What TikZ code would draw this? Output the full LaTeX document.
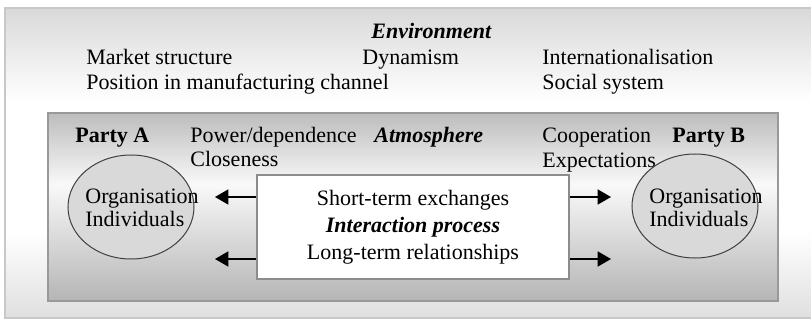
\documentclass[tikz,border=0pt]{standalone}
\usepackage{fontspec}
\setmainfont{Liberation Serif}
\usepackage{xcolor}
\usepackage{tikz}
\usetikzlibrary{shapes.geometric}
\usetikzlibrary{arrows}

\pgfdeclareverticalshading{envfade}{100bp}{color(0bp)=(gray!25); color(25bp)=(gray!25); color(39bp)=(white); color(60bp)=(white); color(75bp)=(gray!30); color(100bp)=(gray!30)}
\pgfdeclareverticalshading{atmofade}{100bp}{color(0bp)=(gray!58); color(25bp)=(gray!58); color(56bp)=(gray!5); color(75bp)=(gray!52); color(100bp)=(gray!52)}

\tikzset{
    txt/.style = {anchor = base west, inner sep = 0pt},
    flow/.style = {-triangle 60, line width = 0.8pt},
    party/.style = {ellipse, draw = black!75, fill = gray!30, line width = 0.5pt,
        minimum width = 63pt, minimum height = 52pt, inner sep = 0pt}
}

\begin{document}
\fontsize{11}{13}\selectfont
\begin{tikzpicture}[x = 0.5pt, y = -0.5pt]
    \useasboundingbox (0, 0) rectangle (811, 321);

    \shade [shading = envfade] (5, 8) rectangle (814, 318);
    \draw [gray!43, line width = 1pt] (5, 8) rectangle (814, 318);
    \shade [shading = atmofade] (48, 113) rectangle (778, 301);
    \draw [gray!80, line width = 1pt] (48, 113) rectangle (778, 301);

    \node [txt, font = \bfseries\itshape] (environment) at (371, 39) {Environment};
    \node [txt] (market) at (86, 64) {Market structure};
    \node [txt] (dynamism) at (362, 64) {Dynamism};
    \node [txt] (intl) at (542, 64) {Internationalisation};
    \node [txt] (position) at (86, 90) {Position in manufacturing channel};
    \node [txt] (social) at (542, 90) {Social system};

    \node [txt, font = \bfseries] (partyA) at (75, 142) {Party A};
    \node [txt] (power) at (190, 142) {Power/dependence};
    \node [txt, font = \bfseries\itshape] (atmosphere) at (374, 142) {Atmosphere};
    \node [txt] (cooperation) at (542, 142) {Cooperation};
    \node [txt, font = \bfseries] (partyB) at (672, 142) {Party B};
    \node [txt] (closeness) at (190, 167) {Closeness};
    \node [txt] (expectations) at (542, 168) {Expectations};

    \node [party] (orgA) at (131, 207) {};
    \node [party] (orgB) at (695, 206) {};
    \node [txt] (orgAname) at (85, 204) {Organisation};
    \node [txt] (orgAstaff) at (85, 227) {Individuals};
    \node [txt] (orgBname) at (649, 204) {Organisation};
    \node [txt] (orgBstaff) at (649, 227) {Individuals};

    \node [draw = gray!90, fill = white, line width = 0.7pt, minimum width = 156pt, minimum height = 52pt,
        inner sep = 0pt, align = center, font = \fontsize{11}{13.5}\selectfont] (process) at (413, 227)
        {Short-term exchanges\\\textbf{\textit{Interaction process}}\\Long-term relationships};

    \coordinate (tipAup) at (215, 197);
    \coordinate (tipAdown) at (215, 259);
    \coordinate (tipBup) at (611, 197);
    \coordinate (tipBdown) at (611, 259);
    \draw [flow] (process.west |- tipAup) -- (tipAup);
    \draw [flow] (process.west |- tipAdown) -- (tipAdown);
    \draw [flow] (process.east |- tipBup) -- (tipBup);
    \draw [flow] (process.east |- tipBdown) -- (tipBdown);
\end{tikzpicture}
\end{document}
